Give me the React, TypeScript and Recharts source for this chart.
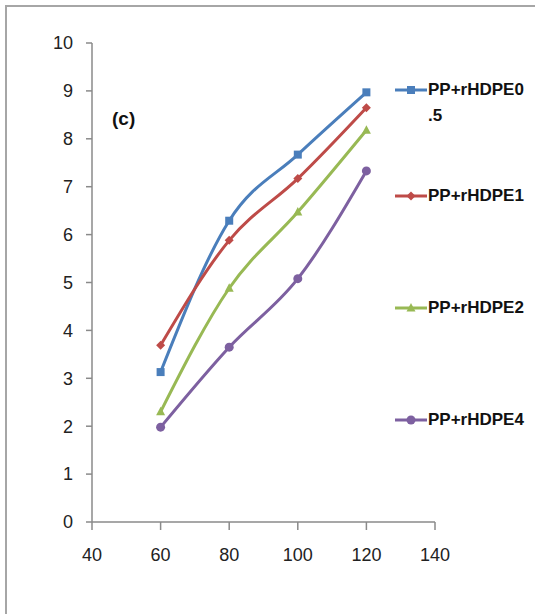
import { LineChart, Line, XAxis, YAxis, Legend } from "recharts";

const temps = [60, 80, 100, 120];
const hdpe05 = [3.13, 6.29, 7.67, 8.97];
const hdpe1 = [3.69, 5.88, 7.17, 8.65];
const hdpe2 = [2.3, 4.88, 6.47, 8.18];
const hdpe4 = [1.98, 3.65, 5.08, 7.33];

const xTicks = [40, 60, 80, 100, 120, 140];
const yTicks = [0, 1, 2, 3, 4, 5, 6, 7, 8, 9, 10];

const seriesNames = ["PP+rHDPE0.5", "PP+rHDPE1", "PP+rHDPE2", "PP+rHDPE4"];
const seriesKeys = ["s05", "s1", "s2", "s4"];
const COLORS = ["#4A7EBB", "#BE4B48", "#98B954", "#7D60A0"];
const SHAPES = ["square", "diamond", "triangle", "circle"];

const data = temps.map((t, i) => ({
  t,
  s05: hdpe05[i],
  s1: hdpe1[i],
  s2: hdpe2[i],
  s4: hdpe4[i],
}));

const FONT = "'Liberation Sans', Arial, sans-serif";

function Marker({ shape, cx, cy, color }: { shape: string; cx: number; cy: number; color: string }) {
  if (shape === "square") return <rect x={cx - 4} y={cy - 4} width={8} height={8} fill={color} />;
  if (shape === "diamond")
    return <polygon points={`${cx},${cy - 4.5} ${cx + 4.5},${cy} ${cx},${cy + 4.5} ${cx - 4.5},${cy}`} fill={color} />;
  if (shape === "triangle")
    return <polygon points={`${cx},${cy - 5} ${cx + 4.5},${cy + 3.5} ${cx - 4.5},${cy + 3.5}`} fill={color} />;
  return <circle cx={cx} cy={cy} r={4.5} fill={color} />;
}

const legendTops = [78, 184, 296, 408];

// legend box is narrow, so long names wrap after 9 characters like the original
function wrapName(name: string) {
  if (name.length <= 9) return name;
  return (
    <>
      {name.slice(0, 9)}
      <br />
      {name.slice(9)}
    </>
  );
}

function LegendBox() {
  return (
    <div style={{ position: "relative", height: 0 }}>
      {seriesNames.map((name, i) => (
        <div
          key={name}
          style={{ position: "absolute", left: 394, top: legendTops[i], display: "flex", alignItems: "flex-start" }}
        >
          <svg width={34} height={24} style={{ flex: "none" }}>
            <line x1={1} y1={12} x2={33} y2={12} stroke={COLORS[i]} strokeWidth={3} />
            <Marker shape={SHAPES[i]} cx={17} cy={12} color={COLORS[i]} />
          </svg>
          <div
            style={{
              whiteSpace: "nowrap",
              fontFamily: FONT,
              fontWeight: "bold",
              fontSize: 17,
              lineHeight: "26px",
              color: "#111",
              textAlign: "left",
              marginTop: -1,
            }}
          >
            {wrapName(name)}
          </div>
        </div>
      ))}
    </div>
  );
}

export default function App() {
  return (
    <div style={{ position: "absolute", left: 0, top: 0, width: 535, height: 614, background: "#fff", overflow: "hidden" }}>
      <div
        style={{
          position: "absolute",
          left: 5,
          top: 5,
          width: 560,
          height: 640,
          borderTop: "2px solid #a6a6a6",
          borderLeft: "2px solid #a6a6a6",
        }}
      />
      <div
        style={{
          position: "absolute",
          left: 112,
          top: 108,
          fontFamily: FONT,
          fontWeight: "bold",
          fontSize: 19,
          color: "#111",
        }}
      >
        (c)
      </div>
      <LineChart
        width={535}
        height={614}
        data={data}
        margin={{ top: 43, right: 100, bottom: 52, left: 0 }}
        style={{ position: "absolute", left: 0, top: 0 }}
      >
        <XAxis
          dataKey="t"
          type="number"
          domain={[40, 140]}
          ticks={xTicks}
          height={40}
          stroke="#8a8a8a"
          strokeWidth={1.5}
          tickSize={8}
          tickMargin={18}
          tick={{ fill: "#222", fontSize: 18, fontFamily: FONT }}
        />
        <YAxis
          type="number"
          domain={[0, 10]}
          ticks={yTicks}
          width={92}
          stroke="#8a8a8a"
          strokeWidth={1.5}
          tickSize={6}
          tickMargin={13}
          tick={{ fill: "#222", fontSize: 18, fontFamily: FONT }}
        />
        <Legend
          layout="horizontal"
          verticalAlign="top"
          align="left"
          wrapperStyle={{ left: 0, top: 0, width: 535, height: 0 }}
          content={() => <LegendBox />}
        />
        {seriesKeys.map((k, i) => (
          <Line
            key={k}
            dataKey={k}
            name={seriesNames[i]}
            type="monotone"
            stroke={COLORS[i]}
            strokeWidth={3}
            isAnimationActive={false}
            dot={(p: any) => <Marker key={p.index} shape={SHAPES[i]} cx={p.cx} cy={p.cy} color={COLORS[i]} />}
            activeDot={false}
          />
        ))}
      </LineChart>
    </div>
  );
}
